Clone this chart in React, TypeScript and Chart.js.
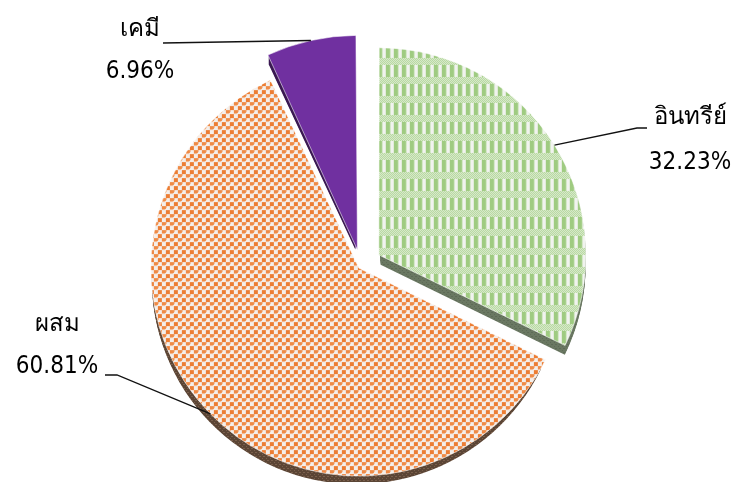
import React, { useEffect, useRef } from "react";
import { Chart, registerables } from "chart.js";

Chart.register(...registerables);

const categories = ["อินทรีย์", "ผสม", "เคมี"];
const percentLabels = ["32.23%", "60.81%", "6.96%"];
const values = [32.23, 60.81, 6.96];
const explode = [84, 12, 66];

const FONT = "'DejaVu Sans Condensed', Tahoma, 'Noto Sans', sans-serif";

function makeGreenPattern(ctx: CanvasRenderingContext2D) {
  const c = document.createElement("canvas");
  c.width = 8;
  c.height = 19;
  const g = c.getContext("2d")!;
  g.fillStyle = "#f1f3ef";
  g.fillRect(0, 0, 8, 19);
  g.fillStyle = "#9fcb81";
  g.fillRect(0, 0, 4, 12);
  g.fillStyle = "#d0e6c2";
  g.fillRect(4, 0, 1, 12);
  for (let y = 12; y < 19; y++) {
    for (let x = 0; x < 8; x++) {
      g.fillStyle = (x + y) % 2 === 0 ? "#add493" : "#e3efda";
      g.fillRect(x, y, 1, 1);
    }
  }
  return ctx.createPattern(c, "repeat")!;
}

function makeOrangePattern(ctx: CanvasRenderingContext2D) {
  const c = document.createElement("canvas");
  c.width = 8;
  c.height = 8;
  const g = c.getContext("2d")!;
  g.fillStyle = "#f4efeb";
  g.fillRect(0, 0, 8, 8);
  g.fillStyle = "#ec7d33";
  g.fillRect(0, 0, 4, 4);
  g.fillStyle = "#ef8a45";
  g.fillRect(4, 4, 4, 3);
  g.fillStyle = "#f5bd97";
  g.fillRect(4, 7, 3, 1);
  g.fillRect(0, 4, 1, 2);
  return ctx.createPattern(c, "repeat")!;
}

function makeSidePattern(ctx: CanvasRenderingContext2D, a: string, b: string) {
  const c = document.createElement("canvas");
  c.width = 4;
  c.height = 4;
  const g = c.getContext("2d")!;
  g.fillStyle = a;
  g.fillRect(0, 0, 4, 4);
  g.fillStyle = b;
  g.fillRect(0, 0, 1, 1);
  g.fillRect(2, 2, 1, 1);
  g.fillRect(3, 0, 1, 1);
  return ctx.createPattern(c, "repeat")!;
}

// replicate Chart.js ArcElement translation
function arcGeom(el: any) {
  const p = el.getProps(["x", "y", "startAngle", "endAngle", "outerRadius", "circumference"], true);
  const offset = (el.options.offset || 0) / 4;
  const half = (p.startAngle + p.endAngle) / 2;
  const fix = 1 - Math.sin(Math.min(Math.PI, p.circumference || 0));
  const t = offset + offset * fix;
  return {
    cx: p.x + Math.cos(half) * t,
    cy: p.y + Math.sin(half) * t,
    r: p.outerRadius,
    start: p.startAngle,
    end: p.endAngle,
    half,
  };
}

const sideColors = [
  ["#6a7862", "#5e6b57"],
  ["#5b4535", "#7a5f4c"],
  ["#3a1852", "#3a1852"],
];
const depth = [11, 9, 9];

const extrudePlugin = {
  id: "extrude",
  beforeDatasetsDraw(chart: any) {
    const ctx = chart.ctx;
    const meta = chart.getDatasetMeta(0);
    meta.data.forEach((el: any, i: number) => {
      const g = arcGeom(el);
      ctx.save();
      ctx.fillStyle = makeSidePattern(ctx, sideColors[i][0], sideColors[i][1]);
      for (let k = 1; k <= depth[i]; k++) {
        ctx.beginPath();
        ctx.moveTo(g.cx, g.cy + k);
        ctx.arc(g.cx, g.cy + k, g.r, g.start, g.end);
        ctx.closePath();
        ctx.fill();
      }
      ctx.restore();
    });
  },
};

// label layout: [text center x, line1 y, line2 y, elbow x, elbow y, end x, end y]
const labelLayout = [
  [690, 118, 163, 637, 128, 647, 128],
  [57, 325, 367, 117, 375, 105, 375],
  [140, 30, 72, 163, 43, 163, 43],
];

const labelPlugin = {
  id: "sliceLabels",
  afterDatasetsDraw(chart: any) {
    const ctx = chart.ctx;
    const meta = chart.getDatasetMeta(0);
    meta.data.forEach((el: any, i: number) => {
      const g = arcGeom(el);
      const ax = g.cx + Math.cos(g.half) * g.r;
      const ay = g.cy + Math.sin(g.half) * g.r;
      const L = labelLayout[i];
      ctx.save();
      ctx.strokeStyle = "#111";
      ctx.lineWidth = 1.3;
      ctx.beginPath();
      ctx.moveTo(ax, ay);
      ctx.lineTo(L[3], L[4]);
      ctx.lineTo(L[5], L[6]);
      ctx.stroke();
      ctx.fillStyle = "#000";
      ctx.textAlign = "center";
      ctx.textBaseline = "middle";
      ctx.font = `24px ${FONT}`;
      ctx.fillText(categories[i], L[0], L[1]);
      ctx.fillText(percentLabels[i], L[0], L[2]);
      ctx.restore();
    });
  },
};

export default function App() {
  const ref = useRef<HTMLCanvasElement>(null);
  useEffect(() => {
    const canvas = ref.current!;
    const ctx = canvas.getContext("2d")!;
    const chart = new Chart(canvas, {
      type: "pie",
      data: {
        labels: categories,
        datasets: [
          {
            data: values,
            backgroundColor: [makeGreenPattern(ctx), makeOrangePattern(ctx), "#7030a0"],
            borderColor: "rgba(255,255,255,0.55)",
            borderWidth: 1,
            offset: explode,
          },
        ],
      },
      options: {
        responsive: false,
        animation: false,
        radius: 205,
        layout: { padding: { left: 0, right: 13, top: 50, bottom: 0 } },
        plugins: {
          legend: { display: false },
          tooltip: { enabled: false },
        },
      } as any,
      plugins: [extrudePlugin, labelPlugin],
    });
    return () => chart.destroy();
  }, []);
  return (
    <div style={{ position: "fixed", left: 0, top: 0, width: 735, height: 482, background: "#fff" }}>
      <canvas ref={ref} width={735} height={482} />
    </div>
  );
}
